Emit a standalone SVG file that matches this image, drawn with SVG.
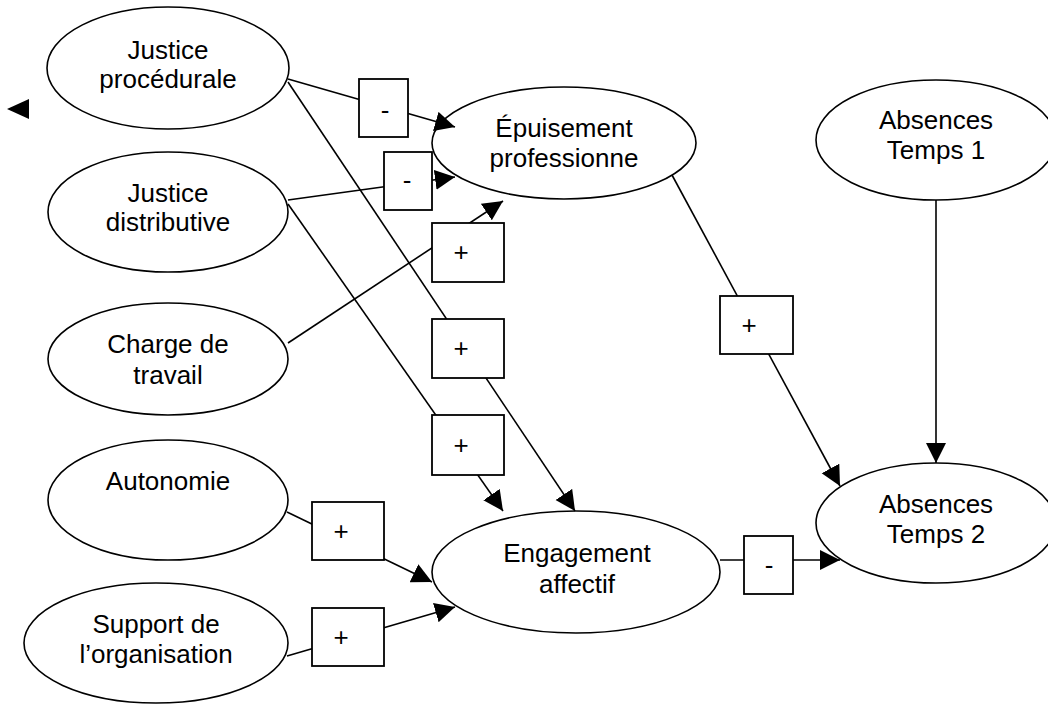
<svg xmlns="http://www.w3.org/2000/svg" width="1048" height="704" viewBox="0 0 1048 704">
<style>
  .node ellipse { fill: #fff; stroke: #000; stroke-width: 1.6; }
  .node text, .lbl text { font-family: "Liberation Sans", Arial, sans-serif; font-size: 26px; fill: #000; text-anchor: middle; }
  .conn line { stroke: #000; stroke-width: 1.6; fill: none; }
  .arrow { marker-end: url(#ah); }
  .lbl rect { fill: #fff; stroke: #000; stroke-width: 1.8; }
</style>
<defs>
  <marker id="ah" markerUnits="userSpaceOnUse" markerWidth="22" markerHeight="22" refX="20" refY="10" orient="auto" viewBox="0 0 22 22">
    <path d="M0,0 L20,10 L0,20 z" fill="#000"/>
  </marker>
</defs>
<rect width="1048" height="704" fill="#fff"/>

<g id="node-justice-procedurale" class="node">
  <ellipse cx="168" cy="68" rx="121" ry="61"/>
  <text x="168" y="59">Justice</text>
  <text x="168" y="88">procédurale</text>
</g>
<g id="node-justice-distributive" class="node">
  <ellipse cx="168" cy="212" rx="120" ry="60"/>
  <text x="168" y="202">Justice</text>
  <text x="168" y="231">distributive</text>
</g>
<g id="node-charge-travail" class="node">
  <ellipse cx="168" cy="359" rx="120" ry="56"/>
  <text x="168" y="353">Charge de</text>
  <text x="168" y="384">travail</text>
</g>
<g id="node-autonomie" class="node">
  <ellipse cx="168" cy="500" rx="120" ry="60"/>
  <text x="168" y="490">Autonomie</text>
</g>
<g id="node-support" class="node">
  <ellipse cx="156" cy="643" rx="132" ry="60"/>
  <text x="156" y="633">Support de</text>
  <text x="156" y="663">l’organisation</text>
</g>
<g id="node-epuisement" class="node">
  <ellipse cx="564" cy="143" rx="132" ry="56"/>
  <text x="564" y="137">Épuisement</text>
  <text x="564" y="167">professionne</text>
</g>
<g id="node-engagement" class="node">
  <ellipse cx="576" cy="572" rx="144" ry="61"/>
  <text x="577" y="562">Engagement</text>
  <text x="577" y="593">affectif</text>
</g>
<g id="node-absences-t1" class="node">
  <ellipse cx="936" cy="140" rx="120" ry="60"/>
  <text x="936" y="129">Absences</text>
  <text x="936" y="159">Temps 1</text>
</g>
<g id="node-absences-t2" class="node">
  <ellipse cx="936" cy="523" rx="120" ry="60"/>
  <text x="936" y="513">Absences</text>
  <text x="936" y="543">Temps 2</text>
</g>

<g id="connectors" class="conn">
  <line class="arrow" x1="288" y1="79" x2="455" y2="127"/>
  <line class="arrow" x1="288" y1="200" x2="455" y2="177"/>
  <line class="arrow" x1="288" y1="343" x2="503" y2="201"/>
  <line class="arrow" x1="288" y1="82" x2="575" y2="511"/>
  <line class="arrow" x1="288" y1="204" x2="503" y2="511"/>
  <line class="arrow" x1="287" y1="512" x2="432" y2="582"/>
  <line class="arrow" x1="287" y1="656" x2="455" y2="607"/>
  <line class="arrow" x1="672" y1="175" x2="840" y2="486"/>
  <line class="arrow" x1="720" y1="560" x2="840" y2="560"/>
  <line class="arrow" x1="936" y1="200" x2="936" y2="463"/>
  <path d="M7,109 L29,99 L29,119 z" fill="#000"/>
  <g class="lbl">
    <rect x="359" y="79" width="49" height="58"/>
    <text x="385" y="119">-</text>
    <rect x="384" y="152" width="48" height="58"/>
    <text x="407" y="189">-</text>
    <rect x="432" y="223" width="72" height="59"/>
    <text x="461" y="261">+</text>
    <rect x="432" y="319" width="72" height="59"/>
    <text x="461" y="357">+</text>
    <rect x="432" y="415" width="72" height="60"/>
    <text x="461" y="454">+</text>
    <rect x="312" y="502" width="72" height="58"/>
    <text x="341" y="540">+</text>
    <rect x="312" y="608" width="72" height="58"/>
    <text x="341" y="646">+</text>
    <rect x="720" y="296" width="73" height="58"/>
    <text x="749" y="334">+</text>
    <rect x="744" y="536" width="49" height="58"/>
    <text x="769" y="574">-</text>
  </g>
</g>
</svg>
